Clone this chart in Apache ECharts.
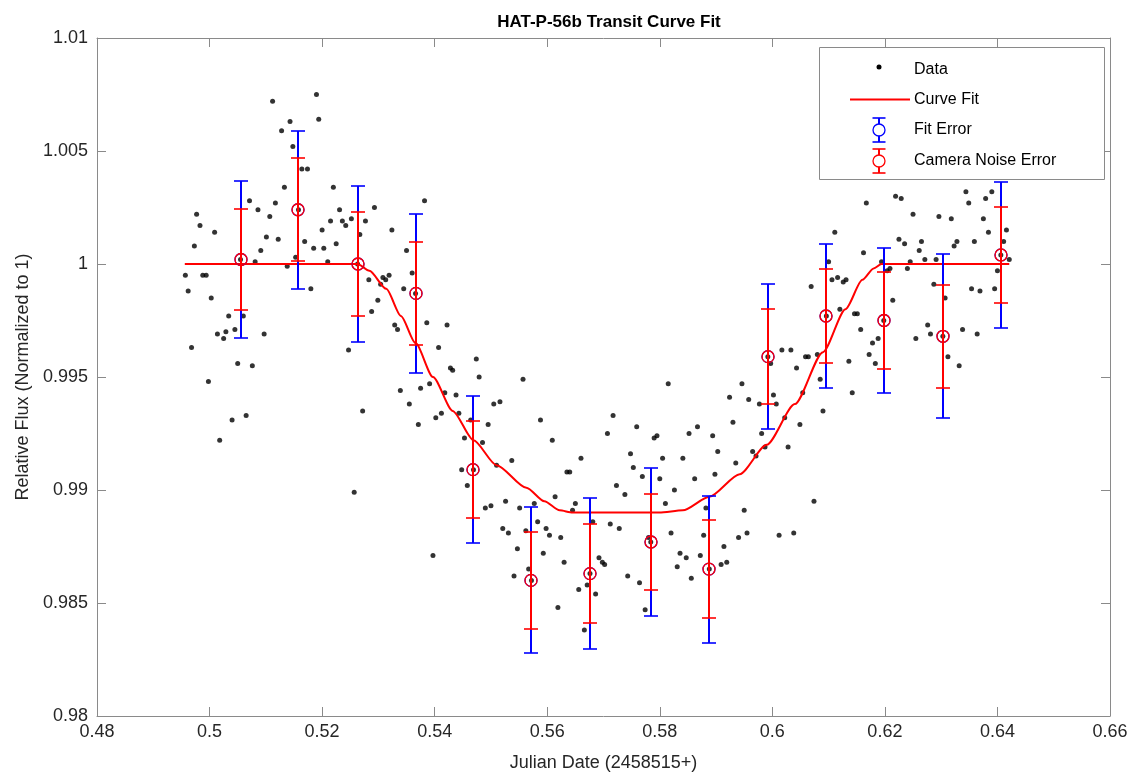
<!DOCTYPE html>
<html>
<head>
<meta charset="utf-8">
<script src="https://cdn.jsdelivr.net/npm/echarts@6/dist/echarts.min.js"></script>
<style>
  html, body { margin: 0; padding: 0; background: #fff; }
  #chart { width: 1132px; height: 782px; }
</style>
</head>
<body>
<div id="chart"></div>
<script>
// observed points (julian date offset, relative flux)
var obsTime = [
  0.5112,0.5190,0.5143,0.5194,0.5128,0.5148,0.5164,0.5174,0.5133,0.5071,
  0.5117,0.5086,0.5107,0.5158,0.4977,0.4983,0.5009,0.5200,0.5101,0.5122,
  0.5169,0.4973,0.5185,0.5203,0.5091,0.5055,0.5081,0.5153,0.5138,0.4957,
  0.4988,0.4994,0.5180,0.4962,0.5003,0.5034,0.5060,0.5045,0.5014,0.5025,
  0.5029,0.5097,0.4968,0.5050,0.5076,0.4998,0.5040,0.5065,0.5018,0.5220,
  0.5231,0.5215,0.5236,0.5242,0.5252,0.5293,0.5277,0.5267,0.5324,0.5382,
  0.5225,0.5210,0.5263,0.5283,0.5308,0.5313,0.5319,0.5304,0.5350,0.5360,
  0.5366,0.5345,0.5299,0.5288,0.5329,0.5334,0.5386,0.5422,0.5407,0.5247,
  0.5428,0.5432,0.5339,0.5375,0.5391,0.5418,0.5438,0.5355,0.5272,0.5371,
  0.5402,0.5412,0.5443,0.5453,0.5448,0.5458,0.5257,0.5397,0.5474,0.5479,
  0.5557,0.5505,0.5516,0.5464,0.5495,0.5588,0.5707,0.5485,0.5609,0.5469,
  0.5510,0.5537,0.5660,0.5635,0.5640,0.5490,0.5500,0.5526,0.5551,0.5577,
  0.5614,0.5650,0.5645,0.5521,0.5531,0.5562,0.5583,0.5598,0.5604,0.5624,
  0.5681,0.5547,0.5593,0.5630,0.5567,0.5692,0.5698,0.5702,0.5541,0.5572,
  0.5676,0.5656,0.5671,0.5686,0.5619,0.5666,0.5815,0.5946,0.5924,0.5958,
  0.5717,0.5759,0.5790,0.5795,0.5852,0.5867,0.5894,0.5930,0.5748,0.5805,
  0.5841,0.5903,0.5935,0.5753,0.5769,0.5800,0.5862,0.5898,0.5723,0.5738,
  0.5826,0.5810,0.5882,0.5950,0.5712,0.5728,0.5820,0.5878,0.5940,0.5955,
  0.5784,0.5780,0.5914,0.5836,0.5847,0.5872,0.5831,0.5909,0.5919,0.5888,
  0.5856,0.5743,0.5764,0.5774,0.6167,0.6111,0.6162,0.6100,0.6194,0.6204,
  0.6106,0.6116,0.6126,0.6131,0.6069,0.6096,0.6120,0.6146,0.6151,0.6157,
  0.6198,0.6178,0.6188,0.6172,0.6183,0.5992,0.5997,0.6017,0.6033,0.6059,
  0.6064,0.6080,0.6043,0.6085,0.6136,0.6142,0.5977,0.6007,0.6002,0.6054,
  0.6090,0.6022,0.6049,0.5981,0.5965,0.5971,0.5987,0.6028,0.6074,0.6012,
  0.6038,0.6219,0.6229,0.6250,0.6296,0.6318,0.6344,0.6349,0.6379,0.6390,
  0.6375,0.6384,0.6416,0.6225,0.6235,0.6265,0.6261,0.6323,0.6328,0.6359,
  0.6411,0.6271,0.6291,0.6245,0.6240,0.6209,0.6406,0.6421,0.6400,0.6287,
  0.6307,0.6354,0.6369,0.6395,0.6214,0.6276,0.6281,0.6255,0.6303,0.6338,
  0.6364,0.6312,0.6332
];
var obsFlux = [
  1.0072,1.0075,1.0063,1.0064,1.0059,1.0052,1.0042,1.0042,1.0034,1.0028,
  1.0027,1.0024,1.0021,1.0024,1.0022,1.0017,1.0014,1.0015,1.0012,1.0011,
  1.0010,1.0008,1.0007,1.0007,1.0006,1.0002,1.0001,1.0003,0.9999,0.9995,
  0.9995,0.9995,0.9989,0.9988,0.9985,0.9977,0.9977,0.9971,0.9969,0.9967,
  0.9970,0.9969,0.9963,0.9956,0.9955,0.9948,0.9931,0.9933,0.9922,1.0034,
  1.0024,1.0019,1.0019,1.0017,1.0020,1.0025,1.0019,1.0013,1.0015,1.0028,
  1.0009,1.0001,1.0000,0.9993,0.9994,0.9993,0.9995,0.9991,1.0006,0.9996,
  0.9987,0.9989,0.9984,0.9979,0.9973,0.9971,0.9974,0.9973,0.9963,0.9962,
  0.9954,0.9953,0.9944,0.9945,0.9947,0.9943,0.9942,0.9938,0.9935,0.9929,
  0.9932,0.9934,0.9934,0.9923,0.9909,0.9902,0.9899,0.9871,0.9958,0.9950,
  0.9949,0.9938,0.9939,0.9931,0.9929,0.9931,0.9925,0.9921,0.9922,0.9909,
  0.9911,0.9913,0.9914,0.9908,0.9908,0.9892,0.9893,0.9895,0.9892,0.9894,
  0.9897,0.9894,0.9891,0.9883,0.9881,0.9882,0.9886,0.9883,0.9880,0.9879,
  0.9886,0.9874,0.9872,0.9868,0.9865,0.9870,0.9868,0.9867,0.9862,0.9860,
  0.9863,0.9856,0.9858,0.9854,0.9848,0.9838,0.9947,0.9947,0.9941,0.9940,
  0.9933,0.9928,0.9923,0.9924,0.9925,0.9928,0.9924,0.9930,0.9916,0.9914,
  0.9914,0.9917,0.9912,0.9910,0.9906,0.9905,0.9905,0.9907,0.9902,0.9898,
  0.9900,0.9894,0.9892,0.9891,0.9885,0.9883,0.9881,0.9880,0.9879,0.9881,
  0.9877,0.9879,0.9875,0.9872,0.9870,0.9871,0.9866,0.9867,0.9868,0.9865,
  0.9861,0.9862,0.9859,0.9847,1.0027,1.0014,1.0005,1.0001,1.0001,0.9997,
  0.9993,0.9994,0.9992,0.9993,0.9990,0.9977,0.9980,0.9978,0.9978,0.9971,
  0.9975,0.9965,0.9967,0.9960,0.9956,0.9959,0.9956,0.9962,0.9962,0.9959,
  0.9959,0.9960,0.9954,0.9949,0.9957,0.9943,0.9938,0.9938,0.9942,0.9943,
  0.9935,0.9932,0.9929,0.9925,0.9917,0.9915,0.9919,0.9919,0.9895,0.9880,
  0.9881,1.0030,1.0029,1.0022,1.0021,1.0020,1.0032,1.0027,1.0029,1.0032,
  1.0020,1.0014,1.0015,1.0011,1.0009,1.0010,1.0006,1.0008,1.0010,1.0010,
  1.0010,1.0002,1.0002,1.0001,0.9998,0.9998,1.0004,1.0002,0.9997,0.9991,
  0.9985,0.9989,0.9988,0.9989,0.9984,0.9973,0.9969,0.9967,0.9968,0.9971,
  0.9969,0.9959,0.9955
];

// fitted transit model
var fitTime = [0.4956,0.5263,0.5284,0.5314,0.5340,0.5366,0.5397,0.5432,0.5469,0.5510,
               0.5563,0.5595,0.5622,0.5645,0.5799,0.5841,0.5888,0.5942,0.5990,0.6040,
               0.6090,0.6130,0.6160,0.6180,0.6194,0.6421];
var fitFlux = [1.0000,1.0000,0.9997,0.9989,0.9977,0.9965,0.9950,0.9935,0.9922,0.9911,
               0.9901,0.9895,0.9891,0.9890,0.9890,0.9891,0.9897,0.9907,0.9920,0.9938,
               0.9961,0.9980,0.9993,0.9998,1.0000,1.0000];

// error bars
var barTime = [0.5055,0.5158,0.5263,0.5366,0.5469,0.5572,0.5676,0.5784,0.5888,0.5992,0.6096,0.6198,0.6303,0.6406];
var barFlux = [1.0002,1.0024,1.0000,0.9987,0.9909,0.9860,0.9863,0.9877,0.9865,0.9959,0.9977,0.9975,0.9968,1.0004];
var fitErr  = [0.00346,0.00349,0.00347,0.00352,0.00326,0.00323,0.00333,0.00326,0.00325,0.00320,0.00319,0.00320,0.00363,0.00322];
var camErr  = [0.00225,0.00228,0.00229,0.00227,0.00214,0.00213,0.00218,0.00214,0.00217,0.00211,0.00209,0.00213,0.00227,0.00211];

var FONT = '"Liberation Sans", Arial, sans-serif';
var AXCOL = '#8a8a8a';
var TXT = '#262626';

function errorBars(name, color, err, z) {
    return {
        name: name,
        type: 'custom',
        z: z,
        data: barTime.map(function (t, i) { return [t, barFlux[i], err[i]]; }),
        encode: { x: 0, y: 1 },
        renderItem: function (params, api) {
            var x = api.value(0), y = api.value(1), e = api.value(2);
            var c = api.coord([x, y]);
            var hi = api.coord([x, y + e]);
            var lo = api.coord([x, y - e]);
            // 2px wide on whole pixels so the red bar hides the blue one completely
            var px = Math.round(c[0]);
            var yt = Math.round(hi[1]), yb = Math.round(lo[1]);
            var cap = 7;
            return {
                type: 'group',
                children: [
                    { type: 'line', shape: { x1: px, y1: yt, x2: px, y2: yb }, style: { stroke: color, lineWidth: 2 } },
                    { type: 'line', shape: { x1: px - cap, y1: yt, x2: px + cap, y2: yt }, style: { stroke: color, lineWidth: 1.6 } },
                    { type: 'line', shape: { x1: px - cap, y1: yb, x2: px + cap, y2: yb }, style: { stroke: color, lineWidth: 1.6 } },
                    { type: 'circle', shape: { cx: px, cy: c[1], r: 6 }, style: { stroke: color, fill: null, lineWidth: 1.3 } }
                ]
            };
        }
    };
}

// legend drawn by hand (matlab style box)
function legendIcon(y, color) {
    var cx = 879;
    return [
        { type: 'line', shape: { x1: cx, y1: y - 12, x2: cx, y2: y + 12 }, style: { stroke: color, lineWidth: 2 } },
        { type: 'line', shape: { x1: cx - 6.5, y1: y - 12, x2: cx + 6.5, y2: y - 12 }, style: { stroke: color, lineWidth: 1.6 } },
        { type: 'line', shape: { x1: cx - 6.5, y1: y + 12, x2: cx + 6.5, y2: y + 12 }, style: { stroke: color, lineWidth: 1.6 } },
        { type: 'circle', shape: { cx: cx, cy: y, r: 6 }, style: { stroke: color, fill: '#fff', lineWidth: 1.3 } }
    ];
}
function legendText(y, s) {
    return { type: 'text', x: 914, y: y, style: { text: s, font: '16px ' + FONT, fill: '#000', textVerticalAlign: 'middle' } };
}

var legendEls = [
    { type: 'rect', shape: { x: 819.5, y: 47.5, width: 285, height: 132 }, style: { fill: '#fff', stroke: '#8a8a8a', lineWidth: 1 } },
    { type: 'circle', shape: { cx: 879, cy: 67, r: 2.5 }, style: { fill: '#000' } },
    legendText(70, 'Data'),
    { type: 'line', shape: { x1: 850, y1: 99.5, x2: 910, y2: 99.5 }, style: { stroke: '#ff0000', lineWidth: 2 } },
    legendText(100, 'Curve Fit'),
    legendText(130, 'Fit Error'),
    legendText(161, 'Camera Noise Error')
].concat(legendIcon(130, '#0000ff')).concat(legendIcon(161, '#ff0000'));
legendEls.forEach(function (el) { el.z = 100; });

var xFmt = function (v) { return String(parseFloat(v.toFixed(2))); };
var yFmt = function (v) { return String(parseFloat(v.toFixed(3))); };

var myChart = echarts.init(document.getElementById('chart'), null, { renderer: 'canvas' });
var option = {
    backgroundColor: '#fff',
    animation: false,
    title: {
        text: 'HAT-P-56b Transit Curve Fit',
        left: 604, top: 9, textAlign: 'center',
        textStyle: { fontFamily: FONT, fontSize: 17, fontWeight: 'bold', color: '#000' }
    },
    grid: { left: 97, top: 38, width: 1013, height: 678, containLabel: false },
    xAxis: [{
        type: 'value', min: 0.48, max: 0.66, interval: 0.02, position: 'bottom',
        name: 'Julian Date (2458515+)', nameLocation: 'middle', nameGap: 38,
        nameTextStyle: { fontFamily: FONT, fontSize: 18, color: TXT },
        axisLine: { onZero: false, lineStyle: { color: AXCOL, width: 1 } },
        axisTick: { inside: true, length: 9, lineStyle: { color: AXCOL } },
        axisLabel: { formatter: xFmt, fontFamily: FONT, fontSize: 18, color: TXT, margin: 7 },
        splitLine: { show: false }
    }, {
        type: 'value', min: 0.48, max: 0.66, interval: 0.02, position: 'top',
        axisLine: { onZero: false, lineStyle: { color: AXCOL, width: 1 } },
        axisTick: { inside: true, length: 9, lineStyle: { color: AXCOL } },
        axisLabel: { show: false },
        splitLine: { show: false }
    }],
    yAxis: [{
        type: 'value', min: 0.98, max: 1.01, interval: 0.005, position: 'left',
        name: 'Relative Flux (Normalized to 1)', nameLocation: 'middle', nameGap: 64,
        nameTextStyle: { fontFamily: FONT, fontSize: 18, color: TXT },
        axisLine: { onZero: false, lineStyle: { color: AXCOL, width: 1 } },
        axisTick: { inside: true, length: 9, lineStyle: { color: AXCOL } },
        axisLabel: { formatter: yFmt, fontFamily: FONT, fontSize: 18, color: TXT, margin: 9 },
        splitLine: { show: false }
    }, {
        type: 'value', min: 0.98, max: 1.01, interval: 0.005, position: 'right',
        axisLine: { onZero: false, lineStyle: { color: AXCOL, width: 1 } },
        axisTick: { inside: true, length: 9, lineStyle: { color: AXCOL } },
        axisLabel: { show: false },
        splitLine: { show: false }
    }],
    series: [{
        name: 'Data',
        type: 'scatter',
        symbol: 'circle',
        symbolSize: 5,
        itemStyle: { color: '#000' },
        data: obsTime.map(function (t, i) { return [t, obsFlux[i]]; }),
        z: 2
    }, {
        name: 'Curve Fit',
        type: 'line',
        showSymbol: false,
        smooth: 0.25,
        smoothMonotone: 'x',
        lineStyle: { color: '#ff0000', width: 2 },
        data: fitTime.map(function (t, i) { return [t, fitFlux[i]]; }),
        z: 3
    },
    errorBars('Fit Error', '#0000ff', fitErr, 4),
    errorBars('Camera Noise Error', '#ff0000', camErr, 5)
    ],
    graphic: legendEls
};
myChart.setOption(option);
</script>
</body>
</html>
